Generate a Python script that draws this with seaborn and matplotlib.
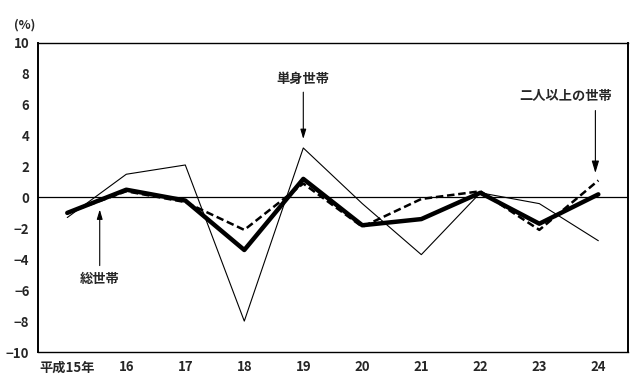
import numpy as np
import pandas as pd
import seaborn as sns
import matplotlib.pyplot as plt

sns.set_theme(style="white")
plt.rcParams['font.family'] = ['Noto Sans CJK JP', 'DejaVu Sans']

# 年（平成）
years = ["平成15年", "16", "17", "18", "19", "20", "21", "22", "23", "24"]
# 消費支出の実質増減率 (%)
total = [-1.0, 0.5, -0.2, -3.4, 1.2, -1.8, -1.4, 0.3, -1.7, 0.2]
single = [-1.3, 1.5, 2.1, -8.0, 3.2, -0.4, -3.7, 0.3, -0.4, -2.8]
two_plus = [-1.0, 0.4, -0.3, -2.1, 0.9, -1.9, -0.1, 0.4, -2.1, 1.1]

df = pd.DataFrame({"year": years, "総世帯": total, "単身世帯": single,
                   "二人以上の世帯": two_plus})

fig = plt.figure(figsize=(6.4, 3.86), dpi=100)
ax = fig.add_axes([0.059, 0.088, 0.922, 0.801])

sns.lineplot(data=df, x="year", y="単身世帯", color="black", lw=0.8, ax=ax, sort=False)
sns.lineplot(data=df, x="year", y="二人以上の世帯", color="black", lw=1.8,
             linestyle=(0, (3, 1.5)), ax=ax, sort=False)
sns.lineplot(data=df, x="year", y="総世帯", color="black", lw=3.2, ax=ax, sort=False)

ax.axhline(0, color="black", lw=0.9, zorder=1)
ax.set_xlim(-0.5, 9.5)
ax.set_ylim(-10, 10)
ax.set_yticks(range(-10, 11, 2))
ax.set_xlabel("")
ax.set_ylabel("")
ax.tick_params(axis="both", length=0, labelsize=9.5, pad=6)
for lab in ax.get_xticklabels() + ax.get_yticklabels():
    lab.set_fontweight("bold")
for s in ax.spines.values():
    s.set_color("black")
    s.set_linewidth(1.0)
ax.spines["left"].set_linewidth(1.4)
ax.spines["right"].set_linewidth(1.4)

fig.text(0.022, 0.925, "(%)", fontsize=9, fontweight="bold")

arrow = dict(arrowstyle="-|>,head_length=0.6,head_width=0.18", color="black", lw=0.8)
ax.annotate("単身世帯", xy=(4, 3.6), xytext=(4, 7.2), ha="center", va="bottom",
            fontsize=9.5, fontweight="bold", arrowprops=arrow)
ax.text(8.45, 6.1, "二人以上の世帯", ha="center", va="bottom",
        fontsize=9.5, fontweight="bold")
ax.annotate("", xy=(8.95, 1.4), xytext=(8.95, 5.8), arrowprops=arrow)
ax.annotate("総世帯", xy=(0.55, -0.6), xytext=(0.55, -4.8), ha="center", va="top",
            fontsize=9.5, fontweight="bold", arrowprops=arrow)

fig.savefig("out.png", dpi=100)
